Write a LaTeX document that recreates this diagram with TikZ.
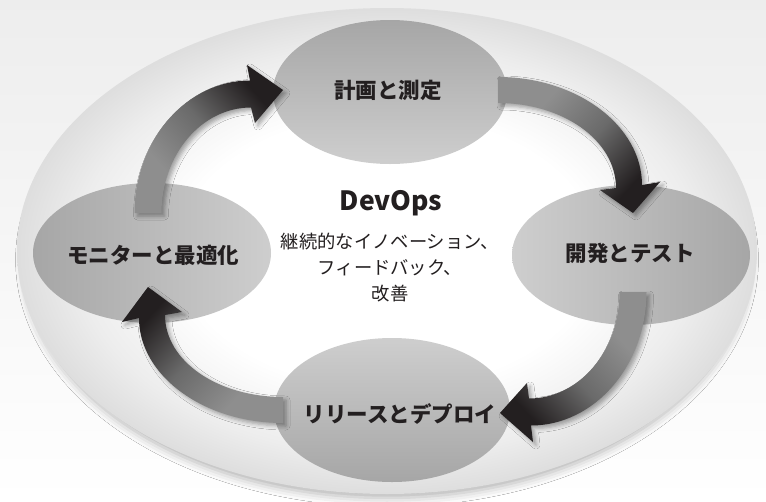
\documentclass[tikz,border=0pt]{standalone}
\usepackage{fontspec}
\newfontfamily\jp{Noto Sans CJK JP}
\usetikzlibrary{shapes.geometric,shadows.blur}

\definecolor{ink}{HTML}{231F20}
\definecolor{tailgray}{HTML}{8E8E8E}
\definecolor{midgray}{HTML}{6A6A6A}
\definecolor{headgray}{HTML}{231F20}
\definecolor{bubbledark}{HTML}{A6A6A6}
\definecolor{bubblelight}{HTML}{CECECE}
\definecolor{rimouter}{HTML}{B8B8B8}
\definecolor{rimmid}{HTML}{C6C6C6}
\definecolor{rimsoft}{HTML}{D6D6D6}
\definecolor{rimin}{HTML}{EDEDED}

% white centre fading to a grey rim (the path edge sits at about 35bp)
\pgfdeclareradialshading{plate}{\pgfpoint{0bp}{0bp}}{%
  color(0bp)=(white); color(14bp)=(white); color(21bp)=(rimin);
  color(27bp)=(rimsoft); color(32bp)=(rimmid); color(35.4bp)=(rimouter);
  color(52bp)=(rimouter)}

% grey tail darkening towards the arrow head
\pgfdeclarehorizontalshading{arrowfade}{100bp}{%
  color(0bp)=(tailgray); color(32bp)=(tailgray); color(52bp)=(midgray);
  color(72bp)=(headgray); color(100bp)=(headgray)}

\tikzset{
  stagebubble/.style={ellipse, inner sep=0pt, draw=none},
  stagelabel/.style={font=\jp\bfseries\fontsize{21.5}{24}\selectfont, text=ink, inner sep=0pt},
  cyclearrow/.style={shading=arrowfade,
      blur shadow={shadow xshift=3pt, shadow yshift=-3pt,
      shadow blur radius=4pt, shadow opacity=35}},
}

\begin{document}
\begin{tikzpicture}[x=1pt,y=-1pt]
\useasboundingbox (0,0) rectangle (766,501);
\shade[top color=black!7, bottom color=white] (0,0) rectangle (766,501);

% outer plate with a soft shadow underneath
\node[name=plate, stagebubble, minimum width=740pt, minimum height=486pt,
      shade, shading=plate,
      blur shadow={shadow scale=0.98, shadow xshift=0pt, shadow yshift=-9pt,
                   shadow blur radius=9pt, shadow opacity=30}]
      at (387,251) {};

% four stage bubbles, darker on the outer side
\node[name=plan, stagebubble, minimum width=234pt, minimum height=144pt,
      top color=bubbledark, bottom color=bubblelight] at (390,92) {};
\node[name=dev, stagebubble, minimum width=238pt, minimum height=140pt,
      left color=bubblelight, right color=bubbledark] at (631,255) {};
\node[name=rel, stagebubble, minimum width=236pt, minimum height=144pt,
      top color=bubblelight, bottom color=bubbledark] at (392,410) {};
\node[name=mon, stagebubble, minimum width=238pt, minimum height=140pt,
      left color=bubbledark, right color=bubblelight] at (152,253) {};

% curved arrows of the cycle
\shade[cyclearrow, shading angle=42]
  (134.5,213) .. controls (134.5,139.8) and (186.7,80.5) .. (250,80.5)
  -- (247,65) -- (283,90) -- (255,123) -- (251,107.5)
  .. controls (201.6,107.5) and (161.5,154.7) .. (161.5,213) -- cycle;

\shade[cyclearrow, shading angle=-42]
  (498,77) .. controls (577.5,77) and (642,126.2) .. (642,185)
  -- (660,182) -- (633,213) -- (600,190) -- (616,188)
  .. controls (616,140.6) and (563.2,103) .. (498,103) -- cycle;

\shade[cyclearrow, shading angle=-138]
  (646.5,292) .. controls (646.5,365.7) and (594.3,425.5) .. (531,425.5)
  -- (533,442) -- (500,413) -- (527,383) -- (529,398.5)
  .. controls (579.4,398.5) and (619.5,350.8) .. (619.5,292) -- cycle;

\shade[cyclearrow, shading angle=138]
  (283,423) .. controls (203.5,423) and (139,375.5) .. (139,318)
  -- (122,322) -- (148,287) -- (182,312) -- (165,315)
  .. controls (165,361.2) and (217.8,397) .. (283,397) -- cycle;

% labels
\node[name=plantext, stagelabel] at (388,90) {計画と測定};
\node[name=devtext, stagelabel] at (630,253) {開発とテスト};
\node[name=reltext, stagelabel] at (400,414) {リリースとデプロイ};
\node[name=montext, stagelabel] at (153,255) {モニターと最適化};

\node[name=title, font=\jp\bfseries\fontsize{26.5}{30}\selectfont, text=ink, inner sep=0pt]
  at (391,203) {DevOps};
\node[name=motto, font=\jp\fontsize{18.3}{26}\selectfont, text=ink, align=center, inner sep=0pt]
  at (390,268) {継続的なイノベーション、\\フィードバック、\\改善};
\end{tikzpicture}
\end{document}
